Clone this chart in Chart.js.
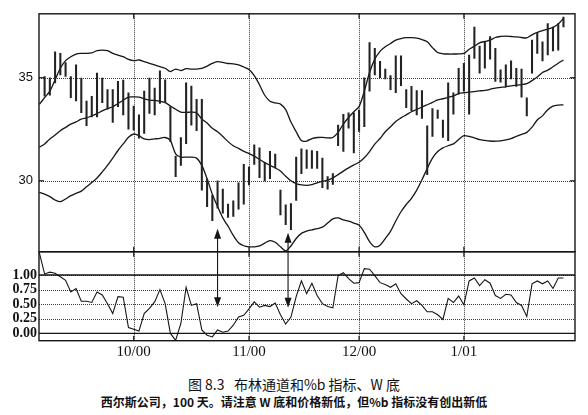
<!DOCTYPE html>
<html>
<head>
<meta charset="utf-8">
<script src="https://cdn.jsdelivr.net/npm/chart.js@4.4.0/dist/chart.umd.min.js"></script>
<style>
  body { margin: 0; background: #fff; }
  #wrap { position: relative; width: 588px; height: 415px; }
  canvas { position: absolute; left: 0; top: 0; }
  .cap { position: absolute; left: 0; width: 588px; text-align: center; white-space: pre; color: #111;
         font-family: "Noto Sans CJK SC", sans-serif; line-height: 20px; }
</style>
</head>
<body>
<div id="wrap">
  <canvas id="chart" width="588" height="365"></canvas>
  <div class="cap" style="top:374px; font-size:14px;">图 8.3   布林通道和%b 指标、W 底</div>
  <div class="cap" style="top:392px; font-size:12px; font-weight:bold;">西尔斯公司，100 天。请注意 W 底和价格新低，但%b 指标没有创出新低</div>
</div>
<script>
// Sears, 100 trading days; day 0 = first bar (early Sept 2000)
const highs = [
  35.06, 35.0, 36.26, 36.18, 35.74, 35.06, 35.62, 34.98, 33.87, 34.1,
  35.22, 34.98, 34.42, 34.42, 34.82, 34.88, 34.27, 33.63, 33.2, 34.35,
  34.98, 34.5, 35.34, 34.9, 33.6, 31.2, 32.1, 34.75, 34.6, 33.95,
  33.95, 30.1, 29.3, 30.0, 29.6, 28.87, 29.03, 29.9, 30.8, 30.67,
  31.75, 31.6, 30.87, 31.43, 31.3, 29.55, 28.83, 28.9, 31.15, 31.55,
  31.5, 31.47, 31.43, 31.1, 30.2, 30.35, 32.7, 33.23, 33.3, 33.3,
  33.43, 35.0, 36.7, 36.42, 35.8, 35.42, 35.1, 36.06, 36.06, 34.42,
  34.58, 34.38, 34.38, 32.67, 33.5, 33.43, 32.95, 34.75, 34.27, 35.46,
  35.7, 36.1, 37.46, 36.54, 36.74, 37.0, 36.42, 35.38, 35.62, 35.82,
  35.46, 35.42, 34.03, 36.82, 37.2, 36.74, 37.62, 37.46, 37.62, 37.94
];
const lows = [
  34.1, 34.15, 34.75, 35.14, 35.06, 34.03, 33.87, 33.31, 32.67, 33.1,
  33.1, 33.79, 33.47, 32.83, 33.6, 33.2, 32.51, 32.45, 32.07, 32.3,
  33.27, 33.2, 33.75, 33.79, 31.9, 30.2, 30.75, 31.8, 32.7, 32.43,
  29.55, 28.75, 28.07, 28.67, 28.43, 28.22, 28.27, 28.63, 28.87, 29.8,
  30.8, 30.15, 30.0, 30.1, 30.63, 28.35, 27.87, 27.63, 29.05, 30.35,
  30.6, 30.6, 30.6, 29.67, 29.6, 29.83, 31.7, 31.43, 32.55, 31.35,
  32.4, 32.63, 34.35, 35.14, 35.0, 34.94, 34.42, 34.27, 34.62, 33.55,
  33.4, 33.2, 33.03, 30.3, 32.15, 33.03, 32.1, 31.95, 33.23, 34.2,
  34.35, 33.23, 35.94, 35.22, 35.46, 35.9, 34.82, 34.78, 34.55, 34.94,
  34.58, 34.06, 33.15, 35.22, 36.18, 35.82, 36.1, 36.3, 36.34, 37.46
];

// bands and %b begin one day earlier (day -1), at the left frame
const bandStart = -1;
const upperBand = [33.71,
  34.03, 34.35, 34.9, 35.46, 35.83, 36.02, 36.15, 36.18, 36.18, 36.21,
  36.31, 36.34, 36.31, 36.18, 36.1, 36.02, 35.89, 35.83, 35.86, 35.78,
  35.7, 35.62, 35.54, 35.46, 35.3, 35.42, 35.35, 35.44, 35.42, 35.42,
  35.45, 35.56, 35.7, 35.78, 35.74, 35.69, 35.67, 35.62, 35.52, 35.4,
  35.1, 34.66, 34.15, 33.86, 33.78, 33.72, 33.45, 32.85, 32.38, 31.95,
  31.93, 32.05, 32.1, 32.11, 32.08, 32.1, 32.35, 32.75, 33.07, 33.35,
  33.6, 34.35, 35.25, 35.9, 36.28, 36.5, 36.66, 36.82, 36.9, 36.94,
  36.94, 36.92, 36.85, 36.74, 36.46, 36.22, 36.16, 36.15, 36.15, 36.16,
  36.18, 36.38, 36.53, 36.69, 36.76, 36.82, 36.95, 37.0, 37.02, 37.0,
  36.98, 36.95, 36.93, 37.08, 37.2, 37.28, 37.36, 37.44, 37.6, 37.88
];
const middleBand = [31.63,
  31.79, 32.03, 32.22, 32.43, 32.59, 32.75, 32.86, 32.99, 33.05, 33.15,
  33.26, 33.39, 33.5, 33.59, 33.75, 33.91, 34.06, 34.07, 34.06, 33.98,
  33.91, 33.9, 33.85, 33.79, 33.63, 33.47, 33.33, 33.32, 33.33, 33.3,
  33.0, 32.8, 32.55, 32.38, 32.15, 31.9, 31.7, 31.57, 31.43, 31.32,
  31.2, 31.03, 30.88, 30.75, 30.62, 30.48, 30.22, 30.0, 29.86, 29.8,
  29.78, 29.82, 29.9, 29.98, 30.02, 30.14, 30.3, 30.47, 30.63, 30.77,
  30.9, 31.12, 31.42, 31.78, 32.05, 32.38, 32.62, 32.88, 33.05, 33.2,
  33.35, 33.46, 33.58, 33.69, 33.8, 33.92, 33.98, 34.05, 34.12, 34.23,
  34.27, 34.3, 34.33, 34.36, 34.39, 34.44, 34.5, 34.53, 34.56, 34.6,
  34.64, 34.67, 34.71, 34.86, 35.03, 35.25, 35.37, 35.53, 35.7, 35.86
];
const lowerBand = [29.44,
  29.35, 29.23, 29.07, 28.99, 29.12, 29.28, 29.39, 29.5, 29.71, 29.92,
  30.14, 30.43, 30.75, 31.1, 31.47, 31.79, 32.11, 32.27, 32.19, 32.03,
  32.0, 32.03, 32.06, 32.1, 31.95, 31.31, 31.15, 31.15, 31.15, 31.1,
  30.75, 30.1, 29.35, 28.75, 28.2, 27.8, 27.35, 27.0, 26.85, 26.8,
  26.8, 26.84, 26.98, 27.1, 27.02, 26.8, 26.6, 26.84, 27.2, 27.45,
  27.56, 27.62, 27.68, 27.75, 27.95, 28.15, 28.2, 28.1, 28.04, 27.95,
  27.85, 27.5, 27.05, 26.8, 26.88, 27.2, 27.55, 28.05, 28.5, 28.85,
  29.15, 29.55, 30.05, 30.6, 31.1, 31.42, 31.6, 31.7, 31.79, 32.0,
  32.19, 32.15, 32.08, 32.0, 31.96, 31.93, 31.92, 31.94, 31.98, 32.05,
  32.15, 32.25, 32.35, 32.6, 32.95, 33.15, 33.45, 33.62, 33.67, 33.68
];
const pctB = [1.38,
  1.02, 1.05, 1.03, 0.97, 0.91, 0.71, 0.77, 0.55, 0.55, 0.53,
  0.71, 0.66, 0.51, 0.34, 0.63, 0.62, 0.10, 0.07, 0.04, 0.34,
  0.43, 0.54, 0.75, 0.51, 0.00, -0.12, 0.17, 0.79, 0.48, 0.51,
  0.06, -0.03, -0.06, 0.06, 0.02, 0.04, 0.14, 0.28, 0.31, 0.42,
  0.54, 0.45, 0.48, 0.46, 0.52, 0.32, 0.16, 0.28, 0.63, 0.90,
  0.68, 0.86, 0.65, 0.51, 0.46, 0.44, 0.99, 1.04, 0.94, 0.86,
  0.87, 1.11, 1.10, 0.99, 0.87, 0.84, 0.79, 0.85, 0.68, 0.59,
  0.51, 0.56, 0.48, 0.37, 0.37, 0.32, 0.24, 0.60, 0.53, 0.64,
  0.49, 0.90, 0.95, 0.82, 0.92, 0.86, 0.65, 0.60, 0.67, 0.66,
  0.53, 0.48, 0.29, 0.85, 0.90, 0.85, 0.90, 0.77, 0.95, 0.95
];

const monthDays = [17, 39, 60, 80];
const monthLabels = ['10/00', '11/00', '12/00', '1/01'];
const priceTicks = [30, 35];
const pctTicks = [0, 0.25, 0.5, 0.75, 1];
const pctSolid = [0, 1];

// W-bottom arrows: day, price at the upper tip, %b at the lower tip
const arrowDays = [33, 46.45];
const arrowTop = [27.67, 27.48];
const arrowBottom = [0.45, 0.44];

const ink = '#161616';
const toPoints = (arr, start) => arr.map((v, i) => ({ x: i + start, y: v }));

function bandSet(arr) {
  return {
    type: 'line', data: toPoints(arr, bandStart), yAxisID: 'y',
    borderColor: ink, borderWidth: 1.3, pointRadius: 0, tension: 0.3, fill: false
  };
}

function line(ctx, x1, y1, x2, y2) {
  ctx.beginPath();
  ctx.moveTo(x1, y1);
  ctx.lineTo(x2, y2);
  ctx.stroke();
}

function arrowHead(ctx, x, y, dir) {
  ctx.beginPath();
  ctx.moveTo(x, y);
  ctx.lineTo(x - 3.5, y - dir * 10);
  ctx.lineTo(x + 3.5, y - dir * 10);
  ctx.closePath();
  ctx.fill();
}

// dotted grid from the scales' own tick positions
const dottedGrid = {
  id: 'dottedGrid',
  beforeDatasetsDraw(chart) {
    const { ctx, chartArea: a } = chart;
    const { x, y, yb } = chart.scales;
    ctx.save();
    ctx.strokeStyle = '#3a3a3a';
    ctx.lineWidth = 1;
    ctx.setLineDash([1, 1]);
    x.ticks.forEach(t => {
      const px = Math.round(x.getPixelForValue(t.value)) + 0.5;
      line(ctx, px, a.top, px, a.bottom);
    });
    [[y, priceTicks], [yb, pctTicks]].forEach(([s, vals]) => {
      vals.forEach(v => {
        const py = Math.round(s.getPixelForValue(v)) + 0.5;
        line(ctx, a.left, py, a.right, py);
      });
    });
    ctx.restore();
  }
};

const framePlugin = {
  id: 'frame',
  afterDatasetsDraw(chart) {
    const { ctx, chartArea: a } = chart;
    const { x, y, yb } = chart.scales;
    ctx.save();
    ctx.strokeStyle = ink;
    ctx.fillStyle = ink;
    ctx.lineWidth = 1.4;
    pctSolid.forEach(v => {
      const py = yb.getPixelForValue(v);
      line(ctx, a.left, py, a.right, py);
    });
    ctx.strokeRect(a.left, y.top, a.right - a.left, y.bottom - y.top);
    ctx.strokeRect(a.left, yb.top, a.right - a.left, yb.bottom - yb.top);

    // short solid tick marks on the frame
    ctx.lineWidth = 1.2;
    monthDays.forEach(d => {
      const px = x.getPixelForValue(d);
      line(ctx, px, y.top, px, y.top + 5);
      line(ctx, px, y.bottom - 5, px, y.bottom + 5);
      line(ctx, px, yb.bottom - 5, px, yb.bottom);
    });
    priceTicks.forEach(v => {
      const py = y.getPixelForValue(v);
      line(ctx, a.left, py, a.left + 5, py);
      line(ctx, a.right - 5, py, a.right, py);
    });

    // arrows
    ctx.lineWidth = 1.1;
    arrowDays.forEach((d, i) => {
      const px = x.getPixelForValue(d);
      const y1 = y.getPixelForValue(arrowTop[i]);
      const y2 = yb.getPixelForValue(arrowBottom[i]);
      line(ctx, px, y1 + 6, px, y2 - 6);
      arrowHead(ctx, px, y1, -1);
      arrowHead(ctx, px, y2, 1);
    });
    ctx.restore();
  }
};

const noGrid = { display: false, drawTicks: false };
const noBorder = { display: false };

new Chart(document.getElementById('chart'), {
  type: 'bar',
  data: {
    datasets: [
      {
        type: 'bar', yAxisID: 'y', grouped: false,
        data: highs.map((h, i) => ({ x: i, y: [lows[i], h] })),
        backgroundColor: '#222', barThickness: 1.4
      },
      bandSet(upperBand),
      bandSet(middleBand),
      bandSet(lowerBand),
      {
        type: 'line', yAxisID: 'yb', data: toPoints(pctB, bandStart),
        borderColor: ink, borderWidth: 1.1, pointRadius: 0, tension: 0, fill: false
      }
    ]
  },
  options: {
    responsive: false,
    animation: false,
    layout: { padding: { left: 0, right: 13, top: 10, bottom: 0 } },
    plugins: { legend: { display: false }, tooltip: { enabled: false } },
    scales: {
      x: {
        type: 'linear', min: -1.07, max: 101.2, offset: false,
        grid: { ...noGrid, offset: false },
        border: noBorder,
        afterBuildTicks: s => { s.ticks = monthDays.map(v => ({ value: v })); },
        afterFit: s => { s.height = 24.3; },
        ticks: {
          padding: 2, color: '#111', maxRotation: 0, autoSkip: false,
          font: { family: 'Liberation Serif', size: 15 },
          callback: v => monthLabels[monthDays.indexOf(v)]
        }
      },
      yb: {
        type: 'linear', position: 'left', stack: 'panels', stackWeight: 90,
        min: -0.125, max: 1.4, beginAtZero: false,
        grid: noGrid, border: noBorder,
        afterBuildTicks: s => { s.ticks = pctTicks.map(v => ({ value: v })); },
        afterFit: s => { s.width = 39; },
        ticks: {
          padding: 2, color: '#111', autoSkip: false,
          font: { family: 'Liberation Serif', size: 14, weight: 'bold' },
          callback: v => v.toFixed(2)
        }
      },
      y: {
        type: 'linear', position: 'left', stack: 'panels', stackWeight: 240.7,
        min: 26.56, max: 38.1, beginAtZero: false,
        grid: noGrid, border: noBorder,
        afterBuildTicks: s => { s.ticks = priceTicks.map(v => ({ value: v })); },
        afterFit: s => { s.width = 39; },
        ticks: {
          padding: 6, color: '#111', autoSkip: false,
          font: { family: 'Liberation Sans', size: 13 },
          callback: v => String(v)
        }
      }
    }
  },
  plugins: [dottedGrid, framePlugin]
});
</script>
</body>
</html>
